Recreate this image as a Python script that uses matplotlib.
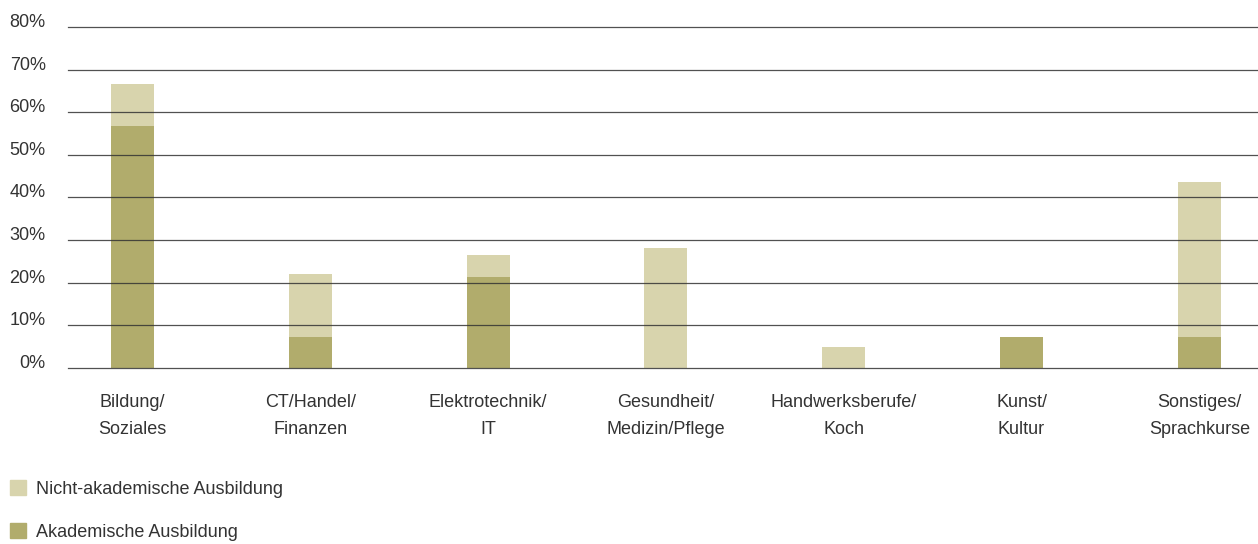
import matplotlib.pyplot as plt
from matplotlib.patches import Patch

# Anteile in Prozent, gestapelt
kategorien = ["Bildung/\nSoziales", "CT/Handel/\nFinanzen", "Elektrotechnik/\nIT",
              "Gesundheit/\nMedizin/Pflege", "Handwerksberufe/\nKoch", "Kunst/\nKultur",
              "Sonstiges/\nSprachkurse"]
akademisch = [56.7, 7.3, 21.4, 0.0, 0.0, 7.3, 7.3]
nicht_akademisch = [10.0, 14.8, 5.1, 28.2, 4.9, 0.0, 36.4]
y_ticks = [0, 10, 20, 30, 40, 50, 60, 70, 80]

dunkel = "#b1ac6c"
hell = "#d8d4ad"
textfarbe = "#333333"

plt.rcParams['font.family'] = ['Liberation Sans', 'DejaVu Sans']

fig = plt.figure(figsize=(12.58, 5.44), dpi=100)
ax = fig.add_axes([0.054, 0.3235, 0.946, 0.627])

x = list(range(len(kategorien)))
ax.bar(x, akademisch, width=0.242, color=dunkel, zorder=2)
ax.bar(x, nicht_akademisch, width=0.242, bottom=akademisch, color=hell, zorder=2)

# Rasterlinien liegen über den Balken
for t in y_ticks:
    ax.axhline(t, color="#333333", lw=0.9, alpha=0.85, zorder=3, clip_on=False)

ax.set_xlim(-0.363, 6.33)
ax.set_ylim(0, 80)
for s in ax.spines.values():
    s.set_visible(False)

ax.set_yticks(y_ticks)
ax.set_yticklabels([f"{t}%" for t in y_ticks], fontsize=13, color=textfarbe)
for lbl in ax.get_yticklabels():
    lbl.set_va('baseline')
ax.tick_params(axis='y', length=0, pad=16)

ax.set_xticks(x)
ax.set_xticklabels(kategorien, fontsize=13, color=textfarbe, linespacing=1.7)
ax.tick_params(axis='x', length=0, pad=19)

handles = [Patch(color=hell, label="Nicht-akademische Ausbildung"),
           Patch(color=dunkel, label="Akademische Ausbildung")]
fig.legend(handles=handles, loc='upper left', bbox_to_anchor=(0.0037, 0.127),
           frameon=False, fontsize=13, handlelength=0.9, handleheight=0.9,
           handletextpad=0.55, labelspacing=1.4, borderaxespad=0, borderpad=0.3,
           labelcolor=textfarbe)

fig.savefig("out.png", dpi=100)
